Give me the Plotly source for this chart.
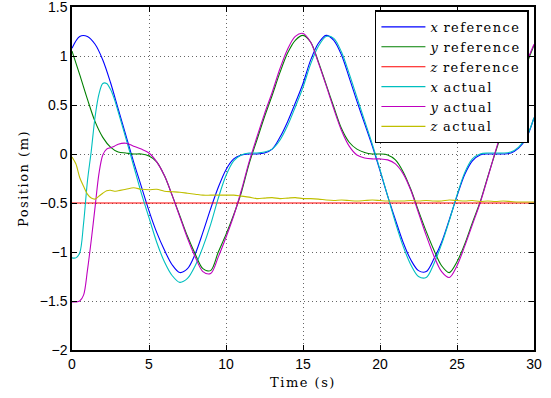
import plotly.graph_objects as go

# reference trajectory sample times (s)
time = [0, 0.5, 1, 1.5, 2, 2.5, 3, 3.5, 4, 4.5, 5, 5.5, 6, 6.5, 7, 7.5, 8, 8.5, 9, 9.5,
        10, 10.5, 11, 11.5, 12, 12.5, 13, 13.5, 14, 14.5, 15, 15.5, 16, 16.5, 17, 17.5,
        18, 18.5, 19, 19.5, 20, 20.5, 21, 21.5, 22, 22.5, 23, 23.5, 24, 24.5, 25, 25.5,
        26, 26.5, 27, 27.5, 28, 28.5, 29, 29.5, 30]

x_ref = [1.08, 1.20, 1.20, 1.12, 0.96, 0.73, 0.46, 0.19, -0.08, -0.33, -0.58, -0.80, -0.98,
         -1.13, -1.21, -1.17, -1.02, -0.80, -0.56, -0.34, -0.16, -0.05, -0.01, 0.0, 0.0, 0.01,
         0.05, 0.17, 0.33, 0.52, 0.72, 0.96, 1.13, 1.21, 1.16, 1.01, 0.78, 0.54, 0.31, 0.08,
         -0.17, -0.43, -0.67, -0.90, -1.08, -1.19, -1.20, -1.07, -0.90, -0.67, -0.43, -0.21,
         -0.07, -0.01, 0.0, 0.0, 0.0, 0.01, 0.06, 0.16, 0.37]

y_ref = [1.05, 0.81, 0.56, 0.33, 0.17, 0.07, 0.02, 0.01, 0.0, 0.0, -0.02, -0.08, -0.22,
         -0.42, -0.63, -0.84, -1.02, -1.17, -1.19, -1.0, -0.82, -0.62, -0.39, -0.10, 0.14,
         0.38, 0.60, 0.83, 1.03, 1.16, 1.21, 1.14, 0.94, 0.71, 0.48, 0.26, 0.12, 0.05, 0.015,
         0.0, 0.0, -0.01, -0.06, -0.18, -0.36, -0.58, -0.79, -0.98, -1.14, -1.21, -1.10,
         -0.92, -0.70, -0.49, -0.23, 0.02, 0.26, 0.49, 0.70, 0.91, 1.11]

z_ref_time = [0, 30]
z_ref = [-0.5, -0.5]

# measured trajectory sample times (s)
t_act = [0, 0.25, 0.5, 0.75, 1.0, 1.25, 1.5, 1.75, 2.0, 2.25, 2.5, 2.75, 3.0,
         3.5, 4, 4.5, 5, 5.5, 6, 6.5, 7, 7.5, 8, 8.5, 9, 9.5, 10, 10.5, 11, 11.5, 12,
         12.5, 13, 13.5, 14, 14.5, 15, 15.5, 16, 16.5, 17, 17.5, 18, 18.5, 19, 19.5, 20,
         20.5, 21, 21.5, 22, 22.5, 23, 23.5, 24, 24.5, 25, 25.5, 26, 26.5, 27, 27.5, 28,
         28.5, 29, 29.5, 30]

x_act = [-1.06, -1.06, -1.01, -0.71, -0.28, 0.03, 0.38, 0.61, 0.72, 0.72, 0.66, 0.56, 0.43,
         0.16, -0.12, -0.40, -0.65, -0.90, -1.10, -1.24, -1.31, -1.27, -1.14, -0.95, -0.72,
         -0.45, -0.22, -0.07, -0.01, 0.01, 0.01, 0.02, 0.05, 0.14, 0.29, 0.48, 0.68, 0.92,
         1.10, 1.20, 1.18, 1.04, 0.82, 0.58, 0.34, 0.10, -0.16, -0.43, -0.70, -0.94, -1.13,
         -1.25, -1.26, -1.12, -0.92, -0.68, -0.42, -0.19, -0.05, 0.0, 0.01, 0.01, 0.01, 0.02,
         0.07, 0.17, 0.37]

y_act = [-1.51, -1.51, -1.50, -1.44, -1.19, -0.88, -0.54, -0.20, -0.01, 0.05, 0.065, 0.08, 0.10,
         0.11, 0.08, 0.05, 0.01, -0.08, -0.22, -0.42, -0.64, -0.86, -1.05, -1.20, -1.22,
         -1.05, -0.85, -0.63, -0.37, -0.08, 0.17, 0.41, 0.63, 0.87, 1.07, 1.20, 1.23, 1.14,
         0.93, 0.70, 0.46, 0.24, 0.08, -0.01, -0.04, -0.05, -0.05, -0.06, -0.10, -0.20,
         -0.37, -0.60, -0.83, -1.04, -1.20, -1.26, -1.14, -0.94, -0.72, -0.50, -0.24, 0.03,
         0.28, 0.50, 0.72, 0.93, 1.12]

z_act = [-0.03, -0.10, -0.24, -0.33, -0.41, -0.45, -0.46, -0.43, -0.40, -0.375, -0.37, -0.38,
         -0.375, -0.36, -0.345, -0.36, -0.365, -0.36, -0.38, -0.385, -0.39, -0.40, -0.41,
         -0.42, -0.42, -0.42, -0.42, -0.42, -0.43, -0.44, -0.455, -0.45, -0.445, -0.455,
         -0.45, -0.445, -0.455, -0.455, -0.46, -0.47, -0.475, -0.47, -0.475, -0.48, -0.475,
         -0.47, -0.475, -0.48, -0.48, -0.48, -0.475, -0.48, -0.475, -0.48, -0.48, -0.47,
         -0.475, -0.48, -0.475, -0.485, -0.48, -0.485, -0.48, -0.485, -0.49, -0.49, -0.49]

x_ticks = [0, 5, 10, 15, 20, 25, 30]
y_ticks = [-2, -1.5, -1, -0.5, 0, 0.5, 1, 1.5]

SP = "<span style='letter-spacing:1.5px'>{}</span>"

series = [
    ("<i>x</i>" + SP.format(" reference"), time, x_ref, "#0000ff"),
    ("<i>y</i>" + SP.format(" reference"), time, y_ref, "#008000"),
    ("<i>z</i>" + SP.format(" reference"), z_ref_time, z_ref, "#ff0000"),
    ("<i>x</i>" + SP.format(" actual"), t_act, x_act, "#00bfbf"),
    ("<i>y</i>" + SP.format(" actual"), t_act, y_act, "#bf00bf"),
    ("<i>z</i>" + SP.format(" actual"), t_act, z_act, "#bfbf00"),
]

fig = go.Figure()
for name, tx, vals, color in series:
    fig.add_trace(go.Scatter(
        x=tx, y=vals, mode="lines", name=name,
        line=dict(color=color, width=1.1, shape="spline", smoothing=0.9),
    ))

axis_common = dict(
    showline=True, linecolor="black", linewidth=1.5, mirror="ticks",
    ticks="inside", ticklen=5, tickcolor="black", tickwidth=1,
    showgrid=True, gridcolor="#666666", griddash="1px,3px", gridwidth=1,
    zeroline=False, automargin=False, ticklabeloverflow="allow",
    tickfont=dict(family="Liberation Sans, Arial, sans-serif", size=14, color="black"),
)

title_font = dict(family="DejaVu Serif", size=13, color="black")

fig.update_xaxes(range=[0, 30], tickvals=x_ticks, ticktext=[str(v) for v in x_ticks],
                 title=dict(text=SP.format("Time (s)"), standoff=7, font=title_font),
                 **axis_common)
fig.update_yaxes(range=[-2, 1.5], tickvals=y_ticks,
                 ticktext=[("\u2212" + f"{abs(v):g}") if v < 0 else f"{v:g}" for v in y_ticks],
                 title=dict(text=SP.format("Position (m)"), standoff=8, font=title_font),
                 **axis_common)

fig.update_layout(
    width=551, height=398,
    margin=dict(l=72, r=17, t=7, b=48),
    paper_bgcolor="white", plot_bgcolor="white",
    showlegend=True,
    legend=dict(
        x=0.989, y=0.99, xanchor="right", yanchor="top",
        bgcolor="white", bordercolor="black", borderwidth=1.5,
        font=dict(family="DejaVu Serif", size=13, color="black"),
        tracegroupgap=0, itemwidth=44,
    ),
)

fig.write_html("out.html", config={"displayModeBar": False},
               post_script="document.body.style.margin='0';")
